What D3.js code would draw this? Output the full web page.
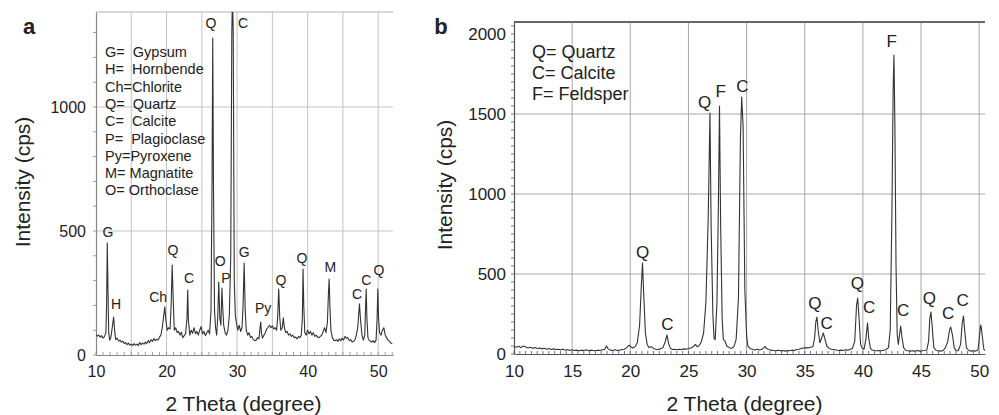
<!DOCTYPE html>
<html>
<head>
<meta charset="utf-8">
<script src="https://cdnjs.cloudflare.com/ajax/libs/d3/7.8.5/d3.min.js"></script>
<style>
  body { margin: 0; background: #fff; }
  svg text { font-family: "Liberation Sans", Arial, sans-serif; fill: #222; }
</style>
</head>
<body>
<div id="chart"></div>
<script>
// XRD scans: [2 theta, cps]
var scanA = [
  [10.0,82],[10.2,76],[10.4,80],[10.6,72],[10.8,78],[11.0,68],[11.2,74],[11.4,90],[11.5,200],[11.6,452],
  [11.7,260],[11.8,90],[11.95,60],[12.1,70],[12.3,110],[12.5,153],[12.65,95],[12.8,62],[13.0,68],[13.2,56],
  [13.4,60],[13.6,52],[13.8,56],[14.0,46],[14.2,50],[14.4,42],[14.6,48],[14.8,40],[15.0,44],[15.2,38],
  [15.4,46],[15.6,40],[15.8,44],[16.0,38],[16.2,50],[16.4,42],[16.6,48],[16.8,44],[17.0,52],[17.2,46],
  [17.4,58],[17.6,50],[17.8,62],[18.0,55],[18.2,66],[18.4,58],[18.6,64],[18.8,60],[19.0,72],[19.2,80],
  [19.4,110],[19.6,160],[19.75,194],[19.9,140],[20.1,100],[20.3,110],[20.5,105],[20.65,200],[20.8,363],[20.95,220],
  [21.1,100],[21.3,110],[21.5,90],[21.7,95],[21.9,80],[22.1,92],[22.3,70],[22.5,78],[22.7,85],[22.9,150],
  [23.0,262],[23.1,140],[23.3,80],[23.5,100],[23.7,88],[23.9,110],[24.1,86],[24.3,95],[24.5,80],[24.7,100],
  [24.9,115],[25.1,85],[25.3,95],[25.5,78],[25.7,90],[25.9,100],[26.1,85],[26.3,180],[26.45,700],[26.55,1278],
  [26.65,700],[26.8,180],[26.95,110],[27.1,80],[27.25,150],[27.4,294],[27.55,150],[27.7,120],[27.85,270],[27.95,200],
  [28.1,120],[28.3,90],[28.5,80],[28.7,100],[28.9,160],[29.1,400],[29.25,1300],[29.35,1450],[29.45,1300],[29.6,300],
  [29.75,160],[29.9,130],[30.1,100],[30.3,120],[30.5,95],[30.7,110],[30.85,200],[31.0,371],[31.15,180],[31.3,100],
  [31.5,80],[31.7,90],[31.9,70],[32.1,75],[32.3,62],[32.5,58],[32.7,60],[32.9,70],[33.1,65],[33.25,110],
  [33.35,133],[33.45,90],[33.6,68],[33.8,80],[34.0,90],[34.2,105],[34.4,112],[34.6,120],[34.8,110],[35.0,118],
  [35.2,105],[35.4,110],[35.6,100],[35.75,150],[35.9,266],[36.05,150],[36.2,100],[36.4,110],[36.55,150],[36.7,110],
  [36.9,90],[37.1,95],[37.3,80],[37.5,85],[37.7,75],[37.9,80],[38.1,70],[38.3,72],[38.5,65],[38.7,75],
  [38.9,70],[39.1,80],[39.25,150],[39.35,347],[39.45,200],[39.6,90],[39.8,80],[40.0,100],[40.2,85],[40.4,95],
  [40.6,80],[40.8,90],[41.0,75],[41.2,80],[41.4,72],[41.6,70],[41.8,75],[42.0,80],[42.2,95],[42.4,110],
  [42.6,90],[42.8,130],[42.95,250],[43.05,306],[43.15,200],[43.3,100],[43.5,70],[43.7,60],[43.9,58],[44.1,62],
  [44.3,55],[44.5,65],[44.7,58],[44.9,68],[45.1,60],[45.3,75],[45.5,68],[45.7,70],[45.9,58],[46.1,62],
  [46.3,52],[46.5,55],[46.7,60],[46.9,80],[47.1,110],[47.25,170],[47.35,206],[47.5,140],[47.7,80],[47.9,60],
  [48.1,80],[48.2,180],[48.3,266],[48.4,150],[48.55,70],[48.7,60],[48.9,55],[49.1,52],[49.3,58],[49.5,50],
  [49.7,60],[49.85,150],[49.95,266],[50.05,150],[50.2,90],[50.4,80],[50.6,100],[50.8,110],[51.0,80],[51.2,70],
  [51.4,60],[51.6,55],[51.8,48],[52.0,45]
];

var scanB = [
  [10.0,45],[10.2,42],[10.4,48],[10.6,40],[10.8,50],[11.0,44],[11.2,38],[11.4,42],[11.6,36],[11.8,40],
  [12.0,34],[12.2,38],[12.4,32],[12.6,36],[12.8,30],[13.0,34],[13.2,28],[13.4,32],[13.6,28],[13.8,30],
  [14.0,26],[14.2,30],[14.4,24],[14.6,28],[14.8,22],[15.0,26],[15.2,22],[15.4,24],[15.6,20],[15.8,24],
  [16.0,22],[16.2,26],[16.4,20],[16.6,24],[16.8,22],[17.0,20],[17.2,24],[17.4,22],[17.6,26],[17.8,30],
  [17.95,50],[18.1,32],[18.3,24],[18.5,22],[18.7,26],[18.9,22],[19.1,24],[19.3,28],[19.5,30],[19.7,40],
  [19.9,55],[20.05,45],[20.2,38],[20.4,45],[20.6,70],[20.8,180],[20.95,430],[21.05,569],[21.15,380],[21.3,130],
  [21.45,60],[21.6,40],[21.8,45],[22.0,35],[22.2,30],[22.4,28],[22.6,32],[22.8,40],[23.0,75],[23.15,119],
  [23.3,65],[23.45,35],[23.6,28],[23.8,30],[24.0,26],[24.2,30],[24.4,28],[24.6,32],[24.8,30],[25.0,34],
  [25.2,38],[25.4,45],[25.6,60],[25.75,45],[25.9,50],[26.1,75],[26.3,130],[26.5,320],[26.7,850],[26.85,1506],
  [26.95,800],[27.1,250],[27.2,100],[27.3,90],[27.45,320],[27.57,900],[27.67,1550],[27.77,800],[27.9,220],[28.0,90],
  [28.15,80],[28.3,50],[28.5,40],[28.7,35],[28.9,45],[29.1,90],[29.3,350],[29.47,1350],[29.58,1606],[29.7,1420],
  [29.85,400],[30.0,120],[30.1,50],[30.3,35],[30.5,30],[30.7,25],[30.9,30],[31.1,25],[31.3,30],[31.5,40],
  [31.6,48],[31.7,35],[31.9,28],[32.1,24],[32.3,22],[32.5,20],[32.7,24],[32.9,20],[33.1,22],[33.3,18],
  [33.5,22],[33.7,20],[33.9,24],[34.1,22],[34.3,28],[34.5,30],[34.7,35],[34.9,38],[35.1,40],[35.3,38],
  [35.5,42],[35.7,45],[35.85,100],[35.95,200],[36.05,231],[36.15,150],[36.3,70],[36.45,100],[36.6,131],[36.75,90],
  [36.9,50],[37.1,35],[37.3,30],[37.5,28],[37.7,25],[37.9,22],[38.1,24],[38.3,22],[38.5,26],[38.7,24],
  [38.9,30],[39.1,35],[39.3,80],[39.45,300],[39.55,350],[39.65,250],[39.8,60],[39.95,35],[40.1,30],[40.25,90],
  [40.4,194],[40.5,100],[40.65,35],[40.8,25],[41.0,22],[41.2,20],[41.4,22],[41.6,20],[41.8,24],[42.0,28],
  [42.2,40],[42.35,150],[42.5,900],[42.6,1650],[42.67,1869],[42.75,1450],[42.85,550],[42.95,120],[43.05,60],[43.15,120],
  [43.25,175],[43.35,110],[43.5,40],[43.7,22],[43.9,20],[44.1,18],[44.3,20],[44.5,18],[44.7,22],[44.9,18],
  [45.1,20],[45.3,22],[45.5,25],[45.65,80],[45.75,220],[45.85,262],[45.95,180],[46.1,40],[46.3,22],[46.5,20],
  [46.7,18],[46.9,22],[47.1,40],[47.3,80],[47.45,150],[47.55,169],[47.7,120],[47.85,40],[48.0,22],[48.2,20],
  [48.4,60],[48.55,200],[48.65,237],[48.75,150],[48.9,40],[49.1,22],[49.3,18],[49.5,20],[49.7,18],[49.9,25],
  [50.0,90],[50.1,170],[50.15,181],[50.25,120],[50.4,30],[50.5,20]
];

// peak labels: letter, 2 theta, cps (where the letter sits)
var peaksA = [
  ["G",11.7,476],["H",12.84,185],["Ch",18.8,214],["Q",20.9,403],["C",23.2,290],["Q",26.3,1319],
  ["O",27.6,359],["P",28.4,290],["C",30.85,1319],["G",31.0,395],["Py",33.7,169],["Q",36.2,282],
  ["Q",39.2,371],["M",43.2,335],["C",47.0,226],["C",48.3,282],["Q",50.1,323]
];
var peaksB = [
  ["Q",21.07,600],["C",23.2,150],["Q",26.4,1538],["F",27.77,1606],["C",29.63,1638],["Q",35.88,281],
  ["C",36.89,156],["Q",39.52,406],["C",40.53,256],["F",42.48,1919],["C",43.47,237],["Q",45.71,312],
  ["C",47.34,219],["C",48.58,300]
];

var legendA = ["G=  Gypsum","H=  Hornbende","Ch=Chlorite","Q=  Quartz","C=  Calcite",
               "P=  Plagioclase","Py=Pyroxene","M= Magnatite","O= Orthoclase"];
var legendB = ["Q= Quartz","C= Calcite","F= Feldsper"];

var ticksXA = [10,20,30,40,50];
var ticksYA = [0,500,1000];
var ticksXB = [10,15,20,25,30,35,40,45,50];
var ticksYB = [0,500,1000,1500,2000];

var svg = d3.select("#chart").append("svg")
  .attr("width", 999).attr("height", 415);

function drawPanel(p) {
  var x = d3.scaleLinear().domain(p.xdom).range([p.left, p.right]);
  var y = d3.scaleLinear().domain(p.ydom).range([p.bottom, p.top]);
  var g = svg.append("g");

  g.append("clipPath").attr("id", p.id + "clip")
    .append("rect").attr("x", p.left).attr("y", p.top)
    .attr("width", p.right - p.left).attr("height", p.bottom - p.top);

  // grid
  g.selectAll(".vg").data(p.gridX).enter().append("line")
    .attr("x1", d => x(d)).attr("x2", d => x(d))
    .attr("y1", p.top).attr("y2", p.bottom)
    .style("stroke", p.gridColor).style("stroke-width", 1);
  g.selectAll(".hg").data(p.gridY).enter().append("line")
    .attr("x1", p.left).attr("x2", p.right)
    .attr("y1", d => y(d)).attr("y2", d => y(d))
    .style("stroke", p.gridColor).style("stroke-width", 1);

  // top line of the frame
  g.append("line").attr("x1", p.left).attr("x2", p.right)
    .attr("y1", p.top).attr("y2", p.top)
    .style("stroke", p.topColor).style("stroke-width", p.topWidth);

  // small minor ticks
  g.selectAll(".my").data(d3.range(0, p.ydom[1], p.minorY)).enter().append("line")
    .attr("x1", p.left - 3).attr("x2", p.left)
    .attr("y1", d => y(d)).attr("y2", d => y(d))
    .style("stroke", p.axisColor).style("stroke-width", 0.8);
  g.selectAll(".mx").data(d3.range(p.xdom[0], p.xdom[1], p.minorX)).enter().append("line")
    .attr("x1", d => x(d)).attr("x2", d => x(d))
    .attr("y1", p.bottom).attr("y2", p.bottom - 3)
    .style("stroke", p.axisColor).style("stroke-width", 0.8);

  var ax = g.append("g").attr("transform", "translate(0," + p.bottom + ")")
    .call(d3.axisBottom(x).tickValues(p.ticksX).tickSize(0).tickPadding(11).tickFormat(d3.format("d")));
  var ay = g.append("g").attr("transform", "translate(" + p.left + ",0)")
    .call(d3.axisLeft(y).tickValues(p.ticksY).tickSize(0).tickPadding(p.left - p.yLabelRight).tickFormat(d3.format("d")));
  [ax, ay].forEach(function(a) {
    a.select(".domain").style("stroke", p.axisColor).style("stroke-width", 1.2);
    a.selectAll("text").style("font-size", p.tickFont + "px").style("font-family", null);
  });

  // the scan itself
  var line = d3.line().x(d => x(d[0])).y(d => y(d[1]));
  g.append("path").datum(p.scan)
    .attr("clip-path", "url(#" + p.id + "clip)")
    .attr("d", line)
    .style("fill", "none").style("stroke", "#333").style("stroke-width", 1.1)
    .style("stroke-linejoin", "round");

  // peak letters
  g.selectAll(".pk").data(p.peaks).enter().append("text")
    .attr("x", d => x(d[1])).attr("y", d => y(d[2]))
    .attr("text-anchor", "middle")
    .style("font-size", p.peakFont + "px")
    .text(d => d[0]);

  // legend text
  g.selectAll(".lg").data(p.legend).enter().append("text")
    .attr("x", p.legendX).attr("y", (d, i) => p.legendY + i * p.legendStep)
    .style("font-size", p.legendFont + "px").style("white-space", "pre")
    .text(d => d);

  // titles
  g.append("text").attr("x", (p.left + p.right) / 2 + p.xTitleShift).attr("y", 411)
    .attr("text-anchor", "middle").style("font-size", "21px").text("2 Theta (degree)");
  g.append("text").attr("transform", "translate(" + p.yTitleX + "," + p.yTitleY + ") rotate(-90)")
    .attr("text-anchor", "middle").style("font-size", "21px").text("Intensity (cps)");
  g.append("text").attr("x", p.tagX).attr("y", 34)
    .attr("text-anchor", "middle").style("font-size", "22px").style("font-weight", "bold")
    .text(p.tag);
}

drawPanel({
  id: "a", tag: "a", tagX: 29,
  scan: scanA, peaks: peaksA, legend: legendA,
  xdom: [10, 52.1], ydom: [0, 1383],
  left: 96, right: 393, top: 12, bottom: 355,
  gridX: [15,20,25,30,35,40,45,50], gridY: [500,1000],
  gridColor: "#c4c4c4", topColor: "#b0b0b0", topWidth: 1, axisColor: "#888",
  minorX: 1, minorY: 100,
  ticksX: ticksXA, ticksY: ticksYA, yLabelRight: 86, tickFont: 16,
  peakFont: 14, legendX: 105, legendY: 57, legendStep: 17.3, legendFont: 14.5,
  xTitleShift: -1, yTitleX: 30, yTitleY: 182
});

drawPanel({
  id: "b", tag: "b", tagX: 441,
  scan: scanB, peaks: peaksB, legend: legendB,
  xdom: [10, 50.5], ydom: [0, 2075],
  left: 514, right: 985, top: 22, bottom: 354,
  gridX: [15,20,25,30,35,40,45,50], gridY: [500,1000,1500],
  gridColor: "#a8a8a8", topColor: "#666", topWidth: 2, axisColor: "#555",
  minorX: 0.5, minorY: 50,
  ticksX: ticksXB, ticksY: ticksYB, yLabelRight: 506, tickFont: 17,
  peakFont: 17, legendX: 532, legendY: 58, legendStep: 21, legendFont: 18,
  xTitleShift: -5, yTitleX: 452, yTitleY: 185
});
</script>
</body>
</html>
